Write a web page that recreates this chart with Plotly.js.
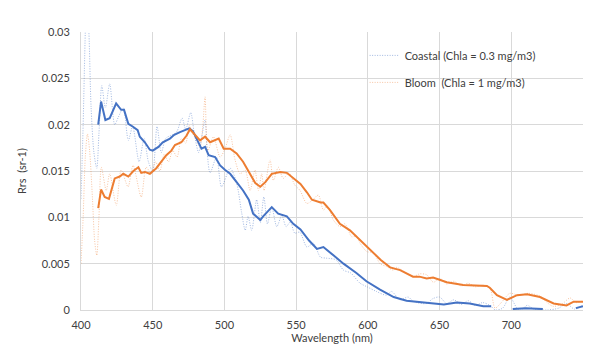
<!DOCTYPE html>
<html>
<head>
<meta charset="utf-8">
<script src="https://cdn.plot.ly/plotly-3.0.1.min.js"></script>
<style>html,body{margin:0;padding:0;background:#fff;}#chart{width:593px;height:353px;}</style>
</head>
<body>
<div id="chart"></div>
<script>
// Coastal (Chla = 0.3 mg/m3) raw spectrum
const coastalRawX = [400,401.5,403,404,405.5,407,409,411,412.5,414.5,417,420,423.5,426,429.5,433,436,440.5,444,447,450,453,456,459,462,465,467,470.5,473,476.5,479,482,484,486.5,488,490,494.5,498,504,508.5,512,514.5,516.5,519,522.5,525,527.5,530,533,536.5,540,543,546,549,552.5,557.5,562,567,571,578,583,588,594.5,599.5,606,613,616.5,622.5,628,632,641,645,650,655,660,665,670,675,680,685,689,694,699,704,707,711,716,725,733,738.5,744,750];
const coastalRawY = [0.012,0.020,0.030,0.034,0.030,0.022,0.017,0.0153,0.019,0.0242,0.0218,0.0244,0.0200,0.0208,0.0218,0.0183,0.0198,0.0160,0.0185,0.0160,0.0150,0.0198,0.0170,0.0185,0.0188,0.0190,0.0193,0.0207,0.0195,0.0213,0.0190,0.0170,0.0185,0.0205,0.0170,0.0148,0.0165,0.0133,0.0153,0.0137,0.0105,0.0086,0.0101,0.0086,0.0119,0.0094,0.0122,0.0093,0.0111,0.0090,0.0102,0.0090,0.0095,0.0083,0.0084,0.0068,0.0072,0.0057,0.0056,0.0054,0.0043,0.0040,0.0029,0.0025,0.0020,0.0016,0.0020,0.0011,0.0014,0.0009,0.0007,0.0012,0.0014,0.0007,0.0011,0.0006,0.0010,0.0005,0.0008,0.0005,0.0000,0.0002,0.0014,0.0002,0.0000,0.0005,0.0001,0.0000,0.0002,0.0007,0.0001,0.0005];

// Coastal smoothed
const coastalSmoothX = [412,414,417,420,424.5,428,430,433,436,439.5,441,444.5,448,450,454,457,462,465,469,472,475.5,478,480,484,486.5,489,493.5,497,500.5,504,508.5,513,517,520,525,527,533,537.5,543.5,548,553,559,564.5,569,576,583,592,599,608.5,618,627,638,646,653,662,671,680.5,686,693,701,710,722,733,745,750];
const coastalSmoothY = [0.0200,0.0225,0.0205,0.0207,0.0223,0.0216,0.0216,0.0201,0.0198,0.0194,0.0187,0.0181,0.0173,0.0172,0.0176,0.0181,0.0185,0.0189,0.0192,0.0194,0.0196,0.0193,0.0187,0.0174,0.0176,0.0167,0.0165,0.0156,0.0151,0.0147,0.0138,0.0129,0.0119,0.0104,0.0097,0.0101,0.0111,0.0104,0.0101,0.0093,0.0087,0.0075,0.0066,0.0068,0.0059,0.0050,0.0040,0.0031,0.0022,0.0014,0.0010,0.0008,0.0007,0.0006,0.0008,0.0007,0.0004,0.0004,null,0.0001,0.0002,0.0001,null,0.0002,0.0004];

// Bloom (Chla = 1 mg/m3) raw spectrum
const bloomRawX = [400,401.5,403,404.5,406,408,409.5,411,412.5,414.2,417.6,420,424.6,428,432.8,436.3,442,445.5,449,452,455,458,461,464,467,470,473,475.5,478,480,483,485,486.5,488.5,492.3,497,500.4,504,507.4,511,514.4,517.9,521.3,523.7,526,527.6,531.8,534.1,537.6,541,545,549,552.7,557.4,561,565.5,569,572,576,580.6,583.9,588.8,592,594.6,599.3,603.9,608.5,613,617.8,620,624.8,631.7,636,641,645.7,650.3,655,660,665,670,675,680,685,688.7,693,699,705,712,720,725,729,735,741,745,750];
const bloomRawY = [0.0050,0.0100,0.0165,0.0190,0.0172,0.0120,0.0075,0.0059,0.0100,0.0154,0.0129,0.0147,0.0113,0.0151,0.0133,0.0156,0.0122,0.0154,0.0147,0.0160,0.0150,0.0168,0.0160,0.0172,0.0165,0.0185,0.0180,0.0199,0.0190,0.0185,0.0176,0.0200,0.0230,0.0172,0.0187,0.0165,0.0174,0.0189,0.0162,0.0147,0.0151,0.0129,0.0151,0.0129,0.0147,0.0129,0.0162,0.0140,0.0154,0.0142,0.0148,0.0135,0.0129,0.0115,0.0118,0.0124,0.0108,0.0112,0.0097,0.0090,0.0093,0.0079,0.0080,0.0072,0.0063,0.0062,0.0050,0.0047,0.0043,0.0046,0.0042,0.0036,0.0039,0.0038,0.0030,0.0034,0.0028,0.0031,0.0026,0.0029,0.0025,0.0027,0.0024,0.0002,0.0008,0.0018,0.0016,0.0018,0.0015,0.0008,0.0004,0.0006,0.0013,0.0008,0.0010];

// Bloom smoothed
const bloomSmoothX = [412,414,416.5,419.5,423.5,427,429.5,433,436.5,440,442,444.5,448,452.5,456,459.5,463,465.5,470,473.5,476,479.5,483,486.5,490,496,499.5,504,508.5,513,518,521.5,525,528.5,533,539,543.5,548,553,557.5,561,567,569,573.5,580.5,587.5,597,606,609,615.5,622.5,631.5,636,641,645.5,655,666.5,683,685,690,697,704,711,720,729.5,738.5,743.5,750];
const bloomSmoothY = [0.0110,0.0130,0.0122,0.0120,0.0142,0.0144,0.0147,0.0144,0.0150,0.0154,0.0148,0.0149,0.0147,0.0153,0.0160,0.0167,0.0172,0.0178,0.0181,0.0188,0.0195,0.0189,0.0183,0.0187,0.0181,0.0185,0.0174,0.0174,0.0169,0.0160,0.0147,0.0137,0.0133,0.0138,0.0147,0.0149,0.0148,0.0142,0.0136,0.0127,0.0119,0.0116,0.0116,0.0108,0.0093,0.0086,0.0072,0.0059,0.0054,0.0046,0.0043,0.0036,0.0036,0.0034,0.0035,0.0030,0.0027,0.0026,0.0024,0.0016,0.0011,0.0016,0.0017,0.0014,0.0007,0.0005,0.0009,0.0009];

const seriesNames = ["Coastal (Chla = 0.3 mg/m3)", "Bloom  (Chla = 1 mg/m3)"];
const xTicks = [400,450,500,550,600,650,700,750];

const BLUE = "#4472C4", ORANGE = "#ED7D31";
const FONT = "Lato, 'Open Sans', sans-serif";

const traces = [
  {x: coastalRawX, y: coastalRawY, name: seriesNames[0], mode: "lines", legendgroup: "a",
   line: {color: "rgba(68,114,196,0.5)", width: 1, dash: "1px,1.5px", shape: "spline", smoothing: 0.8}},
  {x: bloomRawX, y: bloomRawY, name: seriesNames[1], mode: "lines", legendgroup: "b",
   line: {color: "rgba(237,125,49,0.45)", width: 1, dash: "1px,1.5px", shape: "spline", smoothing: 0.8}},
  {x: coastalSmoothX, y: coastalSmoothY, mode: "lines", showlegend: false, connectgaps: false,
   line: {color: BLUE, width: 2}},
  {x: bloomSmoothX, y: bloomSmoothY, mode: "lines", showlegend: false,
   line: {color: ORANGE, width: 2}}
];

const layout = {
  width: 593, height: 353,
  margin: {l: 81, r: 10, t: 32, b: 43},
  paper_bgcolor: "#fff", plot_bgcolor: "#fff",
  font: {family: FONT, size: 11, color: "#404040"},
  showlegend: true,
  legend: {x: 0.565, y: 0.968, xanchor: "left", yanchor: "top", bgcolor: "rgba(255,255,255,0)",
           font: {family: FONT, size: 11, color: "#404040"}, tracegroupgap: 8, traceorder: "grouped"},
  xaxis: {range: [400, 750], tickvals: xTicks, showgrid: true, gridcolor: "#d9d9d9", gridwidth: 1,
          zeroline: false, showline: true, linecolor: "#d9d9d9", ticks: "outside", ticklen: 5, tickcolor: "rgba(0,0,0,0)",
          tickfont: {size: 11, color: "#404040"},
          title: {text: "Wavelength (nm)", font: {size: 11, color: "#404040"}, standoff: 4}},
  yaxis: {range: [0, 0.03], dtick: 0.005, showgrid: true, gridcolor: "#d9d9d9", gridwidth: 1,
          zeroline: false, showline: true, linecolor: "#d9d9d9", ticks: "outside", ticklen: 8, tickcolor: "rgba(0,0,0,0)",
          tickfont: {size: 11, color: "#404040"},
          title: {text: "Rrs  (sr-1)", font: {size: 11, color: "#404040"}, standoff: 12}}
};

Plotly.newPlot("chart", traces, layout, {staticPlot: true, displayModeBar: false});
</script>
</body>
</html>
